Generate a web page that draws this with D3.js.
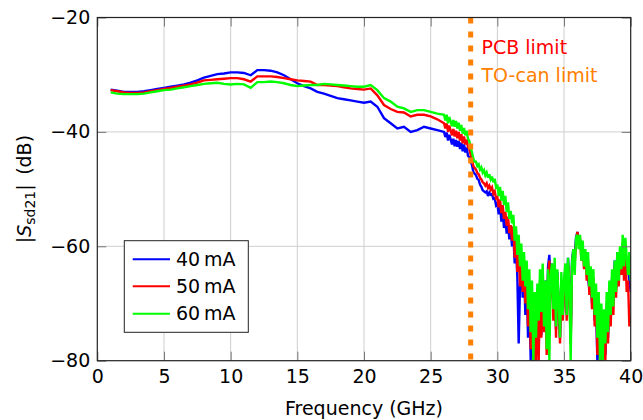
<!DOCTYPE html>
<html><head><meta charset="utf-8">
<script src="https://cdn.jsdelivr.net/npm/d3@7"></script>
<style>
body{margin:0;background:#fff}
svg text{font-family:"DejaVu Sans",sans-serif !important;fill:#000}
</style>
</head><body><svg id="c" width="643" height="420"></svg>
<script>
const xTicks=[0,5,10,15,20,25,30,35,40];
const yTicks=[-80,-60,-40,-20];
const yTickLabels=["\u221280","\u221260","\u221240","\u221220"];
const seriesNames=["40\u2009mA","50\u2009mA","60\u2009mA"];
const seriesColors=["#0000ff","#ff0000","#00ff00"];
const limitFreq=28;
const annotations=["PCB limit","TO-can limit"];

const freq=[1,1.5,2,2.5,3,3.5,4,4.5,5,5.5,6,6.5,7,7.5,8,8.5,9,9.5,10,10.5,11,11.5,12,12.5,13,13.5,14,14.5,15,15.5,16,16.5,17,17.5,18,18.5,19,19.5,20,20.5,21,21.5,22,22.5,23,23.5,24,24.5,25,25.5,
26.0,26.1,26.2,26.3,26.4,26.5,26.6,26.7,26.8,26.9,27.0,27.1,27.2,27.3,27.4,27.5,27.6,27.7,27.8,27.9,28.0,
28.1,28.2,28.3,28.4,28.5,28.6,28.7,28.8,28.9,29.0,29.1,29.2,29.3,29.4,29.5,29.6,29.7,29.8,29.9,30.0,
30.1,30.2,30.3,30.4,30.5,30.6,30.7,30.8,30.9,31.0,
31.1,31.2,31.3,31.4,31.5,31.6,31.7,31.8,31.9,32.0,
32.1,32.2,32.3,32.4,32.5,32.6,32.7,32.8,32.9,33.0,
33.1,33.2,33.3,33.4,33.5,33.6,33.7,33.8,33.9,34.0,
34.1,34.2,34.3,34.4,34.5,34.6,34.7,34.8,34.9,35.0,
35.1,35.2,35.3,35.4,35.5,35.6,35.7,35.8,35.9,36.0,
36.1,36.2,36.3,36.4,36.5,36.6,36.7,36.8,36.9,37.0,
37.1,37.2,37.3,37.4,37.5,37.6,37.7,37.8,37.9,38.0,
38.1,38.2,38.3,38.4,38.5,38.6,38.7,38.8,38.9,39.0,
39.1,39.2,39.3,39.4,39.5,39.6,39.7,39.8,39.9,40.0];

const s40=[-32.6,-32.8,-33.0,-33.0,-33.0,-32.9,-32.7,-32.5,-32.3,-32.1,-31.9,-31.7,-31.4,-31.0,-30.5,-30.2,-29.9,-29.8,-29.6,-29.6,-29.7,-30.1,-29.2,-29.2,-29.3,-29.6,-30.1,-30.8,-31.5,-32.0,-32.4,-33.0,-33.3,-33.7,-34.1,-34.3,-34.5,-34.7,-34.9,-34.7,-35.6,-37.6,-38.5,-39.4,-39.1,-40.0,-39.7,-39.1,-39.4,-39.7,
-40.0,-40.9,-40.1,-41.5,-40.5,-41.3,-42.2,-41.2,-42.5,-41.4,-42.6,-41.6,-43.0,-41.9,-43.4,-42.2,-43.6,-42.7,-44.2,-44.4,-45.2,
-45.8,-47.0,-47.3,-47.6,-48.2,-48.4,-49.2,-49.6,-50.2,-50.4,-50.6,-50.4,-51.2,-50.6,-51.0,-50.9,-51.7,-51.6,-52.8,-52.5,
-54.4,-52.8,-55.7,-54.0,-56.8,-55.2,-57.8,-56.0,-58.8,-57.2,
-60.0,-58.0,-63.0,-60.0,-65.5,-77.0,-67.0,-62.0,-69.0,-64.0,
-72.0,-65.0,-76.0,-67.0,-80.0,-69.0,-80.0,-70.0,-79.0,-69.0,
-78.0,-67.0,-75.5,-65.0,-73.0,-66.0,-76.0,-63.5,-61.5,-67.0,
-63.0,-71.5,-65.0,-74.5,-64.5,-71.0,-76.0,-66.0,-72.5,-67.0,
-64.0,-72.0,-62.0,-67.0,-76.0,-62.5,-60.5,-61.5,-58.5,-57.5,
-58.5,-59.0,-61.0,-61.5,-62.5,-63.5,-64.0,-65.5,-67.5,-66.0,
-70.0,-67.0,-73.0,-70.0,-80.0,-73.0,-80.0,-74.0,-80.0,-73.0,
-79.0,-72.0,-76.0,-68.0,-73.0,-65.5,-70.0,-62.5,-67.5,-61.0,
-65.0,-62.0,-64.0,-59.5,-63.5,-61.0,-65.0,-63.0,-66.0,-68.0];

const s50=[-32.7,-32.9,-33.1,-33.2,-33.2,-33.1,-32.9,-32.7,-32.5,-32.3,-32.1,-31.9,-31.7,-31.4,-31.0,-30.9,-30.8,-30.7,-30.6,-30.6,-30.8,-31.2,-30.3,-30.3,-30.3,-30.4,-30.6,-30.8,-31.0,-31.1,-31.2,-31.8,-31.8,-31.9,-32.0,-32.2,-32.4,-32.5,-32.6,-32.4,-33.6,-35.3,-36.0,-36.5,-36.6,-37.3,-37.0,-37.0,-37.3,-37.8,
-38.5,-39.4,-38.5,-40.0,-38.9,-39.8,-40.6,-39.5,-40.8,-39.8,-41.1,-40.0,-41.5,-40.4,-42.0,-40.8,-42.2,-41.3,-42.7,-43.0,-44.0,
-44.8,-46.0,-46.3,-46.6,-47.2,-47.4,-48.0,-48.3,-48.8,-49.0,-49.4,-49.0,-49.8,-49.4,-50.1,-49.7,-50.8,-50.4,-51.6,-51.4,
-53.2,-51.8,-54.2,-52.8,-55.2,-54.0,-56.4,-54.8,-57.7,-56.3,
-59.0,-56.5,-62.0,-58.0,-64.5,-60.0,-67.0,-61.5,-68.0,-63.0,
-70.0,-64.0,-74.0,-66.0,-78.0,-68.0,-80.0,-69.0,-80.0,-68.0,
-80.0,-66.0,-76.0,-64.0,-75.0,-67.0,-79.0,-65.0,-62.5,-69.0,
-65.0,-73.0,-64.0,-76.0,-65.0,-71.0,-77.0,-66.0,-73.0,-68.0,
-64.0,-73.0,-63.0,-68.0,-77.0,-63.5,-61.0,-63.0,-59.5,-57.5,
-59.0,-58.5,-62.5,-60.0,-64.0,-61.0,-66.0,-62.5,-68.5,-64.5,
-71.0,-65.5,-74.0,-68.0,-79.0,-70.0,-80.0,-72.0,-80.0,-73.0,
-80.0,-70.0,-77.0,-67.5,-74.0,-66.0,-72.0,-63.5,-69.0,-62.0,
-67.0,-61.5,-65.0,-59.5,-66.0,-61.0,-68.0,-66.0,-74.0,-72.0];

const s60=[-33.1,-33.3,-33.4,-33.4,-33.4,-33.3,-33.1,-32.9,-32.7,-32.6,-32.4,-32.2,-32.0,-31.8,-31.6,-31.5,-31.4,-31.6,-31.7,-31.6,-31.7,-32.3,-31.3,-31.3,-31.2,-31.3,-31.5,-31.8,-32.0,-31.9,-31.8,-31.8,-31.6,-31.7,-31.8,-31.9,-32.0,-32.1,-32.1,-31.8,-32.7,-34.1,-34.7,-35.6,-35.9,-36.5,-36.2,-36.2,-36.5,-36.8,
-37.0,-38.0,-37.0,-38.5,-37.4,-38.2,-39.0,-37.9,-39.1,-38.1,-39.4,-38.4,-39.8,-38.8,-40.3,-39.3,-40.6,-39.8,-41.2,-41.6,-42.8,
-43.6,-44.7,-45.2,-45.2,-46.0,-45.7,-46.6,-46.2,-47.1,-46.7,-47.6,-47.1,-48.0,-47.4,-48.3,-47.8,-48.8,-48.2,-49.6,-49.2,
-51.2,-49.6,-52.0,-50.3,-52.8,-51.2,-54.0,-52.3,-55.2,-53.8,
-56.0,-54.5,-59.0,-56.5,-61.5,-58.0,-63.5,-59.5,-66.0,-61.0,
-67.0,-62.5,-71.0,-64.0,-75.0,-66.0,-80.0,-68.0,-76.0,-66.5,
-73.0,-64.0,-71.5,-63.0,-74.0,-66.0,-78.0,-64.0,-80.0,-65.0,
-63.0,-71.0,-62.0,-74.0,-64.0,-70.0,-76.0,-64.5,-72.0,-66.0,
-63.0,-72.0,-62.0,-67.0,-80.0,-63.0,-60.5,-65.0,-58.5,-58.0,
-60.5,-58.0,-62.5,-59.0,-63.5,-60.5,-65.0,-61.0,-67.0,-63.5,
-69.0,-64.0,-72.0,-66.5,-76.0,-68.0,-80.0,-70.0,-80.0,-71.0,
-77.0,-68.0,-75.0,-66.0,-72.0,-64.0,-70.5,-62.5,-68.0,-61.0,
-66.0,-60.0,-64.0,-58.0,-63.5,-58.5,-62.0,-65.0,-61.0,-66.0];

const seriesValues=[s40,s50,s60];
seriesValues.forEach(s=>{ if(s.length!==freq.length) console.error("length mismatch",s.length,freq.length); });

const svg=d3.select("#c");
const L=97.3,R=630.7,T=17.5,B=360.7;
const x=d3.scaleLinear().domain([0,40]).range([L,R]);
const y=d3.scaleLinear().domain([-80,-20]).range([B,T]);

const grid=svg.append("g");
grid.selectAll("line.v").data(xTicks.slice(1,-1)).join("line")
  .attr("x1",d=>x(d)).attr("x2",d=>x(d)).attr("y1",T).attr("y2",B)
  .attr("stroke","#cfcfcf").attr("stroke-width",1);
grid.selectAll("line.h").data(yTicks.slice(1,-1)).join("line")
  .attr("y1",d=>y(d)).attr("y2",d=>y(d)).attr("x1",L).attr("x2",R)
  .attr("stroke","#cfcfcf").attr("stroke-width",1);

svg.append("clipPath").attr("id","clip").append("rect")
  .attr("x",L).attr("y",T).attr("width",R-L).attr("height",B-T);

const line=d3.line().x((d,i)=>x(freq[i])).y(d=>y(d));
const plot=svg.append("g").attr("clip-path","url(#clip)");
seriesValues.forEach((s,i)=>{
  plot.append("path").datum(s).attr("d",line)
    .attr("fill","none").attr("stroke",seriesColors[i])
    .attr("stroke-width",2.4).attr("stroke-linejoin","miter").attr("stroke-miterlimit",3);
});

svg.append("line").attr("x1",x(limitFreq)).attr("x2",x(limitFreq)).attr("y1",T).attr("y2",B)
  .attr("stroke","#ff8000").attr("stroke-width",5).attr("stroke-dasharray","6,8");

const fs="19px";
const ax=svg.append("g").attr("transform",`translate(0,${B})`)
  .call(d3.axisBottom(x).tickValues(xTicks).tickSize(-9).tickSizeOuter(0).tickPadding(9).tickFormat(d3.format("d")));
const ay=svg.append("g").attr("transform",`translate(${L},0)`)
  .call(d3.axisLeft(y).tickValues(yTicks).tickSize(-9).tickSizeOuter(0).tickPadding(7).tickFormat((d,i)=>yTickLabels[i]));
const at=svg.append("g").attr("transform",`translate(0,${T})`)
  .call(d3.axisTop(x).tickValues(xTicks).tickSize(-9).tickSizeOuter(0).tickFormat(""));
const ar=svg.append("g").attr("transform",`translate(${R},0)`)
  .call(d3.axisRight(y).tickValues(yTicks).tickSize(-9).tickSizeOuter(0).tickFormat(""));
[ax,ay,at,ar].forEach(g=>{
  g.attr("font-family",null);
  g.select(".domain").remove();
  g.selectAll(".tick line").attr("stroke","#777").attr("stroke-width",1);
  g.selectAll(".tick text").style("font-size",fs).attr("fill","#000");
});
svg.append("rect").attr("x",L).attr("y",T).attr("width",R-L).attr("height",B-T)
  .attr("fill","none").attr("stroke","#222").attr("stroke-width",1.2);

svg.append("text").attr("x",481.5).attr("y",54).style("font-size",fs).style("fill","#ff0000").text(annotations[0]);
svg.append("text").attr("x",481.5).attr("y",82).style("font-size",fs).style("fill","#ff8000").text(annotations[1]);

svg.append("text").attr("x",(L+R)/2).attr("y",415).attr("text-anchor","middle").style("font-size",fs).text("Frequency (GHz)");
const yl=svg.append("text").attr("transform",`translate(31,${(T+B)/2}) rotate(-90)`).attr("text-anchor","middle").style("font-size",fs);
yl.append("tspan").text("|");
yl.append("tspan").style("font-style","italic").text("S");
yl.append("tspan").attr("dy",4).style("font-size","14px").text("sd21");
yl.append("tspan").attr("dy",-4).text("|\u2002(dB)");

const lg=svg.append("g");
lg.append("rect").attr("x",124.3).attr("y",240.7).attr("width",124).attr("height",91.6)
  .attr("fill","#fff").attr("stroke","#222").attr("stroke-width",1);
const rowY=[259.3,286.3,313.7];
seriesNames.forEach((n,i)=>{
  lg.append("line").attr("x1",132.7).attr("x2",170).attr("y1",rowY[i]).attr("y2",rowY[i])
    .attr("stroke",seriesColors[i]).attr("stroke-width",2);
  lg.append("text").attr("x",176).attr("y",rowY[i]).attr("dy","0.35em").style("font-size",fs).text(n);
});
</script>
</body></html>
